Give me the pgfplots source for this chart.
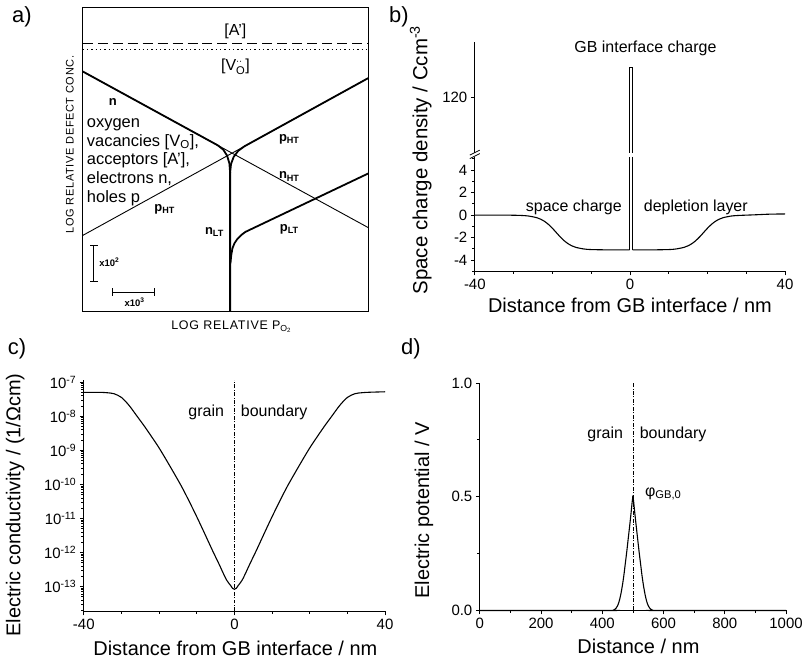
\documentclass[border=0pt]{standalone}
\usepackage{fontspec}
\setmainfont{Liberation Sans}
\usepackage{pgfplots}
\pgfplotsset{compat=1.18}

\newcommand{\tl}{\fontsize{15bp}{18bp}\selectfont}
\newcommand{\al}{\fontsize{20bp}{24bp}\selectfont}
\newcommand{\an}{\fontsize{16bp}{19bp}\selectfont}
\newcommand{\sm}{\bfseries\fontsize{13bp}{15bp}\selectfont}

\pgfplotsset{
  panel/.style={
    scale only axis, clip=false,
    axis line style={line width=0.8bp},
    tick style={line width=0.8bp, black},
    tick align=outside,
    major tick length=4bp, minor tick length=2.5bp,
    tick label style={font=\tl},
    /pgf/number format/assume math mode=true,
    /pgf/number format/1000 sep={},
    scaled ticks=false,
  },
  curve/.style={line width=1.1bp, black},
  gbline/.style={line width=0.6bp, black, dash pattern=on 4bp off 1.5bp on 1bp off 1.5bp},
}

\begin{document}
\begin{tikzpicture}[x=1bp,y=1bp]
\path (0,0) rectangle (806,662);

% ---------------- a) defect diagram
\begin{axis}[panel, at={(83bp,350bp)}, anchor=south west,
  width=286bp, height=305bp,
  xmin=0, xmax=286, ymin=0, ymax=305,
  xtick=\empty, ytick=\empty,
  xlabel={LOG RELATIVE P\textsubscript{O\textsubscript{2}}},
  ylabel={LOG RELATIVE DEFECT CONC.},
  every axis x label/.style={at={(axis description cs:0.521,-0.052)}, anchor=center,
    font=\addfontfeature{LetterSpace=6}\fontsize{12.5bp}{15bp}\selectfont},
  every axis y label/.style={at={(axis description cs:-0.045,0.548)}, rotate=90, anchor=center,
    font=\addfontfeature{LetterSpace=6}\fontsize{11bp}{13bp}\selectfont},
]
\addplot[line width=0.9bp, dash pattern=on 10bp off 5bp] coordinates {(0,268.7) (286,268.7)};
\addplot[line width=1.1bp, dash pattern=on 1.3bp off 3bp] coordinates {(0,262.7) (286,262.7)};
% thin straight lines
\addplot[line width=0.9bp] coordinates {(0,240.3) (286,83.9)};
\addplot[line width=0.9bp] coordinates {(0,76) (286,233.6)};
% thick lines
\addplot[line width=1.8bp] coordinates {(0,240.3) (135.3,166.3) (140.73,162.04) (144.6,156.08) (146.93,148.39) (147.7,139) (147.7,0)};
\addplot[line width=1.8bp] coordinates {(286,233.6) (162,165.3) (155.75,160.7) (151.28,154.78) (148.59,147.55) (147.7,139)};
\addplot[line width=1.8bp] coordinates {(148,48) (148.8,56) (150,63) (152,68) (155,72.5) (159,76.5) (163,79.5) (286,138)};
% scale bars
\addplot[line width=0.9bp, |-|] coordinates {(11,29) (11,66)};
\addplot[line width=0.9bp, |-|] coordinates {(29,19) (72,19)};
\node[font=\an] at (153,281) {[A']};
\node[font=\an] at (153,245) {[V$_{\mathrm{O}}^{\cdot\cdot}$]};
\node[font=\sm] at (30,210) {n};
\node[anchor=west, align=left, inner sep=0, font=\fontsize{16.5bp}{18.8bp}\selectfont] at (4,149.5)
  {oxygen\\vacancies [V\textsubscript{O}],\\acceptors [A'],\\electrons n,\\holes p};
\node[font=\sm] at (82,102) {p\textsubscript{HT}};
\node[font=\sm] at (132,79) {n\textsubscript{LT}};
\node[font=\sm] at (207,172) {p\textsubscript{HT}};
\node[font=\sm] at (207,135) {n\textsubscript{HT}};
\node[font=\sm] at (207,82) {p\textsubscript{LT}};
\node[anchor=west, font=\bfseries\fontsize{9.5bp}{11bp}\selectfont] at (13,49) {x10\textsuperscript{2}};
\node[font=\bfseries\fontsize{9.5bp}{11bp}\selectfont] at (52,9) {x10\textsuperscript{3}};
\end{axis}

% ---------------- b) space charge, lower part
\begin{axis}[panel, at={(476bp,390bp)}, anchor=south west,
  width=311bp, height=115bp,
  xmin=-40, xmax=40, ymin=-5, ymax=5.2,
  axis x line*=bottom, axis y line*=left,
  xtick={-40,0,40}, minor xtick={-30,-20,-10,10,20,30},
  ytick={-4,-2,0,2,4}, minor ytick={-5,-3,-1,1,3,5},
  xlabel={Distance from GB interface / nm},
  ylabel={Space charge density / Ccm\textsuperscript{-3}},
  every axis x label/.style={at={(axis description cs:0.5,-0.296)}, anchor=center, font=\al},
  every axis y label/.style={at={(axis description cs:-0.174,0.97)}, rotate=90, anchor=center,
    font=\fontsize{20.5bp}{24bp}\selectfont},
]
\addplot[curve, smooth] coordinates {
  (-40,0) (-32,-0.005) (-28,-0.034) (-26,-0.091) (-24,-0.235) (-23,-0.370)
  (-22,-0.566) (-21,-0.834) (-20,-1.170) (-19,-1.55) (-18,-1.93) (-17,-2.266)
  (-16,-2.534) (-15,-2.73) (-14,-2.865) (-12,-3.009) (-10,-3.066) (-5,-3.097) (-0.1,-3.1)};
\addplot[curve] coordinates {(-0.1,-3.1) (-0.1,5.2)};
\addplot[curve] coordinates {(0.7,5.2) (0.7,-3.1)};
\addplot[curve, smooth] coordinates {
  (0.7,-3.1) (5,-3.097) (10,-3.066) (12,-3.009) (14,-2.865) (15,-2.73) (16,-2.534)
  (17,-2.266) (18,-1.93) (19,-1.55) (20,-1.17) (21,-0.834) (22,-0.566) (23,-0.37)
  (24,-0.235) (26,-0.091) (28,-0.034) (32,0.02) (36,0.08) (40,0.1)};
\node[anchor=east, font=\an] at (-1.2,0.7) {space charge};
\node[anchor=west, font=\an] at (2.7,0.7) {depletion layer};
\end{axis}

% ---------------- b) upper part
\begin{axis}[panel, at={(476bp,509bp)}, anchor=south west,
  width=311bp, height=111bp,
  xmin=-40, xmax=40, ymin=100, ymax=140,
  axis x line=none, axis y line*=left,
  xtick=\empty, ytick={120},
]
\addplot[curve] coordinates {(-0.1,100) (-0.1,130.6) (0.7,130.6) (0.7,100)};
\node[font=\an] at (4,137.5) {GB interface charge};
\end{axis}
\draw[line width=0.8bp] (471,503) -- (481,508);
\draw[line width=0.8bp] (471,506.5) -- (481,511.5);

% ---------------- c) conductivity
\begin{axis}[panel, at={(84bp,49bp)}, anchor=south west,
  width=302bp, height=232bp,
  xmin=-40, xmax=40, ymode=log, ymin=1.86e-14, ymax=1.15e-7,
  axis x line*=bottom, axis y line*=left,
  xtick={-40,0,40}, minor xtick={-30,-20,-10,10,20,30},
  ytick={1e-13,1e-12,1e-11,1e-10,1e-9,1e-8,1e-7},
  yticklabels={10\textsuperscript{-13},10\textsuperscript{-12},10\textsuperscript{-11},10\textsuperscript{-10},10\textsuperscript{-9},10\textsuperscript{-8},10\textsuperscript{-7}},
  minor ytick={2e-14,3e-14,4e-14,5e-14,6e-14,7e-14,8e-14,9e-14,
    2e-13,3e-13,4e-13,5e-13,6e-13,7e-13,8e-13,9e-13,
    2e-12,3e-12,4e-12,5e-12,6e-12,7e-12,8e-12,9e-12,
    2e-11,3e-11,4e-11,5e-11,6e-11,7e-11,8e-11,9e-11,
    2e-10,3e-10,4e-10,5e-10,6e-10,7e-10,8e-10,9e-10,
    2e-9,3e-9,4e-9,5e-9,6e-9,7e-9,8e-9,9e-9,
    2e-8,3e-8,4e-8,5e-8,6e-8,7e-8,8e-8,9e-8},
  xlabel={Distance from GB interface / nm},
  ylabel={Electric conductivity / (1/Ωcm)},
  every axis x label/.style={at={(axis description cs:0.503,-0.16)}, anchor=center, font=\al},
  every axis y label/.style={at={(axis description cs:-0.228,0.46)}, rotate=90, anchor=center, font=\al},
]
\addplot[gbline] coordinates {(0,1.86e-14) (0,1.15e-7)};
\addplot[curve, smooth] coordinates {
  (-40,5.01e-8) (-36,5.01e-8) (-34,4.90e-8) (-32,4.57e-8) (-30,3.55e-8) (-28,2.09e-8)
  (-26,1.05e-8) (-24,5.25e-9) (-22,2.51e-9) (-20,1.17e-9) (-18,5.01e-10) (-16,2.09e-10)
  (-14,8.51e-11) (-12,3.16e-11) (-10,1.12e-11) (-8,3.80e-12) (-6,1.26e-12) (-5,7.41e-13)
  (-4,4.37e-13) (-3,2.51e-13) (-2,1.51e-13) (-1,1.07e-13) (-0.5,8.91e-14) (0,8.32e-14)
  (0.5,8.91e-14) (1,1.07e-13) (2,1.51e-13) (3,2.51e-13) (4,4.37e-13) (5,7.41e-13)
  (6,1.26e-12) (8,3.80e-12) (10,1.12e-11) (12,3.16e-11) (14,8.51e-11) (16,2.09e-10)
  (18,5.01e-10) (20,1.17e-9) (22,2.51e-9) (24,5.25e-9) (26,1.05e-8) (28,2.09e-8)
  (30,3.55e-8) (32,4.57e-8) (34,4.90e-8) (36,5.05e-8) (40,5.2e-8)};
\node[anchor=east, font=\an] at (-1.85,1.3e-8) {grain};
\node[anchor=west, font=\an] at (0.8,1.3e-8) {boundary};
\end{axis}

% ---------------- d) potential
\begin{axis}[panel, at={(481bp,50bp)}, anchor=south west,
  width=307bp, height=228bp,
  xmin=0, xmax=1000, ymin=0, ymax=1,
  axis x line*=bottom, axis y line*=left,
  xtick={0,200,400,600,800,1000}, minor xtick={100,300,500,700,900},
  ytick={0,0.5,1}, minor ytick={0.25,0.75},
  yticklabel style={/pgf/number format/.cd, fixed, fixed zerofill, precision=1},
  xlabel={Distance / nm},
  ylabel={Electric potential / V},
  every axis x label/.style={at={(axis description cs:0.518,-0.158)}, anchor=center, font=\al},
  every axis y label/.style={at={(axis description cs:-0.182,0.44)}, rotate=90, anchor=center, font=\al},
]
\addplot[gbline] coordinates {(500,0) (500,1)};
\addplot[line width=1.1bp] coordinates {(0,0) (0,0.9)};
\addplot[curve, smooth] coordinates {
  (0,0) (430,0) (435,0.001) (440,0.004) (445,0.010) (450,0.021) (455,0.040)
  (460,0.068) (465,0.105) (470,0.15) (475,0.205) (480,0.26) (485,0.32) (490,0.38)
  (494,0.43) (497,0.47) (500,0.505)};
\addplot[curve, smooth] coordinates {
  (500,0.505) (503,0.47) (506,0.43) (510,0.38) (515,0.32) (520,0.26) (525,0.205)
  (530,0.15) (535,0.105) (540,0.068) (545,0.040) (550,0.021) (555,0.010) (560,0.004)
  (565,0.001) (570,0) (1000,0)};
\node[anchor=east, font=\an] at (479,0.776) {grain};
\node[anchor=west, font=\an] at (511,0.776) {boundary};
\node[anchor=west, font=\an] at (528,0.513) {φ\textsubscript{GB,0}};
\end{axis}

% panel letters
\node[font=\fontsize{22bp}{26bp}\selectfont] at (22,645) {a)};
\node[font=\fontsize{22bp}{26bp}\selectfont] at (400,645) {b)};
\node[font=\fontsize{22bp}{26bp}\selectfont] at (17,312) {c)};
\node[font=\fontsize{22bp}{26bp}\selectfont] at (412,312) {d)};
\end{tikzpicture}
\end{document}
